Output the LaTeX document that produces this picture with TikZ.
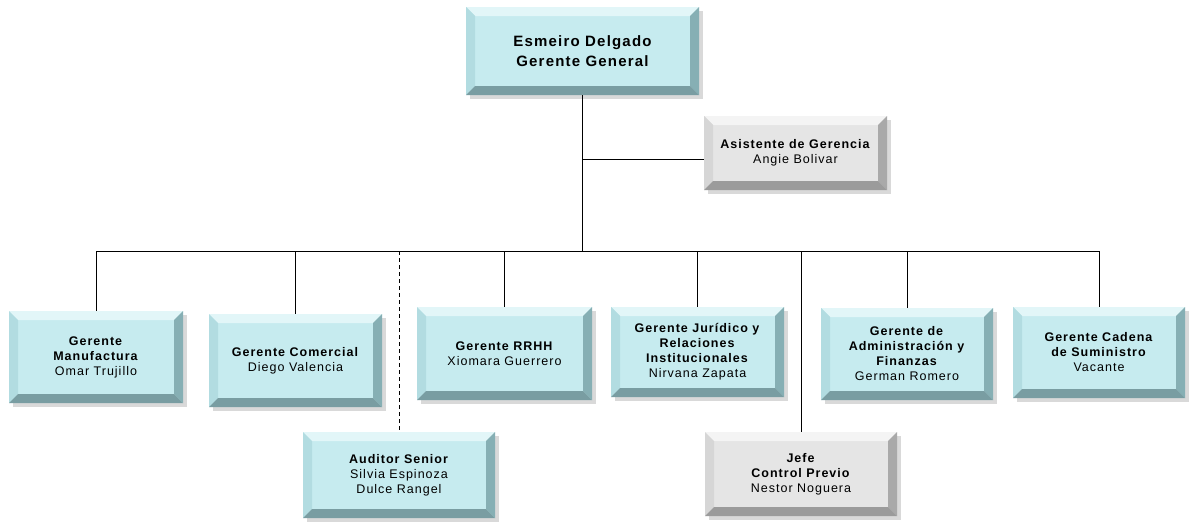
\documentclass[tikz,border=0pt]{standalone}
\usepackage{fontspec}
\setmainfont{Liberation Sans}[LetterSpace=8]
\definecolor{cface}{HTML}{C6EBEF}
\definecolor{ctop}{HTML}{E2F6F8}
\definecolor{cleft}{HTML}{B2DCE1}
\definecolor{cright}{HTML}{86AFB4}
\definecolor{cbot}{HTML}{799DA2}
\definecolor{gface}{HTML}{E5E5E5}
\definecolor{gtop}{HTML}{F4F4F4}
\definecolor{gleft}{HTML}{D6D6D6}
\definecolor{gright}{HTML}{A9A9A9}
\definecolor{gbot}{HTML}{9B9B9B}
\tikzset{
  boxtext/.style={align=center, inner sep=0pt, font=\fontsize{12.5}{15}\selectfont},
  toptext/.style={align=center, inner sep=0pt, font=\fontsize{15}{20}\selectfont\bfseries},
  conn/.style={draw=black, line width=0.9pt},
  dconn/.style={conn, dash pattern=on 4pt off 3pt},
}
% #1 name, #2 x1, #3 y1, #4 x2, #5 y2, #6 palette, #7 text style, #8 text
\newcommand\bevbox[8]{%
  \fill[black!15] (#2+4,#3+4) rectangle (#4+4,#5+4);
  \fill[#6face] (#2,#3) rectangle (#4,#5);
  \fill[#6top] (#2,#3) -- (#4,#3) -- (#4-9,#3+9) -- (#2+9,#3+9) -- cycle;
  \fill[#6left] (#2,#3) -- (#2+9,#3+9) -- (#2+9,#5-9) -- (#2,#5) -- cycle;
  \fill[#6right] (#4,#3) -- (#4,#5) -- (#4-9,#5-9) -- (#4-9,#3+9) -- cycle;
  \fill[#6bot] (#2,#5) -- (#4,#5) -- (#4-9,#5-9) -- (#2+9,#5-9) -- cycle;
  \node[#7, minimum width=#4-#2, minimum height=#5-#3] (#1) at ({(#2+#4)/2},{(#3+#5)/2}) {#8};
}
\begin{document}
\begin{tikzpicture}[x=1pt,y=-1pt]
\useasboundingbox (0,0) rectangle (1191,523);
\fill[white] (0,0) rectangle (1191,523);

\bevbox{top}{466}{7}{699}{95}{c}{toptext}{Esmeiro Delgado\\Gerente General}
\bevbox{asis}{704}{116}{887}{190}{g}{boxtext}{\textbf{Asistente de Gerencia}\\Angie Bolivar}
\bevbox{manu}{9}{311}{183}{403}{c}{boxtext}{\textbf{Gerente}\\\textbf{Manufactura}\\Omar Trujillo}
\bevbox{com}{209}{314}{382}{407}{c}{boxtext}{\textbf{Gerente Comercial}\\Diego Valencia}
\bevbox{aud}{303}{432}{495}{518}{c}{boxtext}{\textbf{Auditor Senior}\\Silvia Espinoza\\Dulce Rangel}
\bevbox{rrhh}{417}{307}{592}{400}{c}{boxtext}{\textbf{Gerente RRHH}\\Xiomara Guerrero}
\bevbox{jur}{611}{307}{784}{397}{c}{boxtext}{\textbf{Gerente Jurídico y}\\\textbf{Relaciones}\\\textbf{Institucionales}\\Nirvana Zapata}
\bevbox{jefe}{705}{432}{897}{516}{g}{boxtext}{\textbf{Jefe}\\\textbf{Control Previo}\\Nestor Noguera}
\bevbox{adm}{821}{308}{993}{400}{c}{boxtext}{\textbf{Gerente de}\\\textbf{Administración y}\\\textbf{Finanzas}\\German Romero}
\bevbox{cad}{1013}{307}{1185}{398}{c}{boxtext}{\textbf{Gerente Cadena}\\\textbf{de Suministro}\\Vacante}

\coordinate (bus) at (583,251);
\coordinate (asisj) at (583,159);
\draw[conn] (top.south) -- (top.south |- bus);
\draw[conn] (asisj) -- (asisj -| asis.west);
\draw[conn] (manu.north |- bus) -- (cad.north |- bus);
\draw[conn] (manu.north |- bus) -- (manu.north);
\draw[conn] (com.north |- bus) -- (com.north);
\draw[dconn] (aud.north |- bus) -- (aud.north);
\draw[conn] (rrhh.north |- bus) -- (rrhh.north);
\draw[conn] (jur.north |- bus) -- (jur.north);
\draw[conn] (jefe.north |- bus) -- (jefe.north);
\draw[conn] (adm.north |- bus) -- (adm.north);
\draw[conn] (cad.north |- bus) -- (cad.north);
\end{tikzpicture}
\end{document}
